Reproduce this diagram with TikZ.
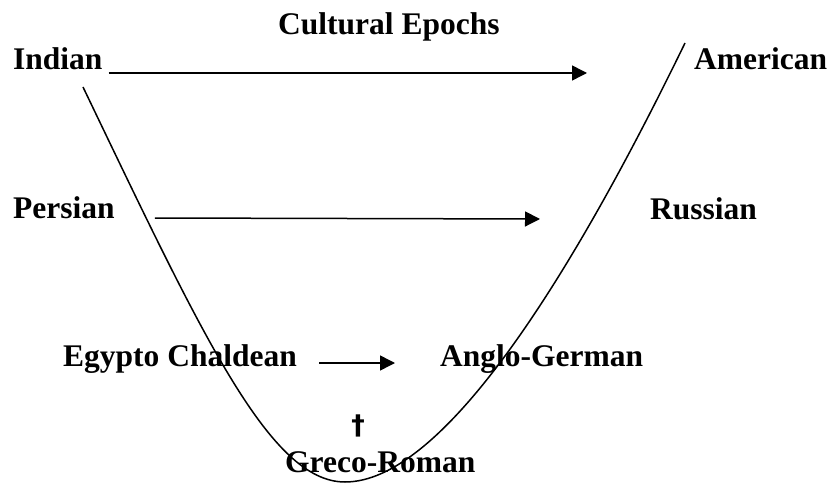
\documentclass[tikz,border=0pt]{standalone}
\usepackage{fontspec}
\setmainfont{Liberation Serif}
\newfontfamily\crossfont{DejaVu Sans}
\usetikzlibrary{arrows.meta,positioning}
\tikzset{
  epoch/.style={font=\fontsize{31.5}{36}\selectfont\bfseries,
                inner sep=0pt, anchor=base west},
  flow/.style={-{Triangle[length=15pt,width=15pt]}, line width=1.5pt},
  valley/.style={black, line width=1.5pt},
}
\begin{document}
\begin{tikzpicture}[x=1pt,y=-1pt]
  \useasboundingbox (0,0) rectangle (827,484);

  \node[epoch] (title) at (278,35) {Cultural Epochs};

  \node[epoch] (indian) at (13,70) {Indian};
  \node[epoch] (american) at (694,70) {American};
  \node[epoch] (persian) at (13,218) {Persian};
  \node[epoch] (russian) at (650,219) {Russian};
  \node[epoch] (egypt) at (63,366) {Egypto Chaldean};
  \node[epoch] (anglo) at (440,366) {Anglo-German};
  \node[epoch] (greco) at (285,472) {Greco-Roman};
  \node[font=\crossfont\fontsize{27}{30}\selectfont\bfseries, inner sep=0pt]
    (cross) at (358,426) {†};

  % the curve of the epochs
  \draw[valley] (83,87) .. controls (203,337) and (270,482) .. (345,482)
                        .. controls (440,482) and (565,290) .. (685,43);

  \draw[flow] ([xshift=6pt,yshift=-3pt]indian.base east)
    -- ([xshift=-107pt,yshift=-3pt]american.base west);
  \draw[flow] ([xshift=40pt]persian.base east)
    -- ([xshift=-110pt]russian.base west);
  \draw[flow] ([xshift=22pt,yshift=3pt]egypt.base east)
    -- ([xshift=-45pt,yshift=3pt]anglo.base west);
\end{tikzpicture}
\end{document}
